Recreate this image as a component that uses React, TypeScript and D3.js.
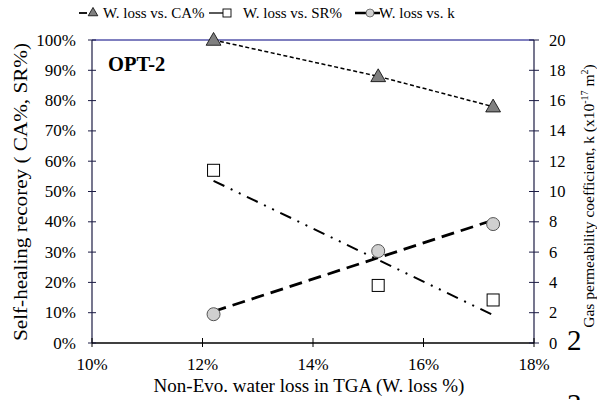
import * as d3 from "d3";

const W = 597;
const H = 400;

// W. loss % (x)
const wLoss = [12.2, 15.18, 17.26];
// self-healing recovery, %
const caPct = [100, 88, 78];
const srPct = [57, 19, 14.2];
// gas permeability k (x10^-17 m2)
const kVal = [1.9, 6.07, 7.85];

const xTicks = [10, 12, 14, 16, 18];
const leftTicks = [0, 10, 20, 30, 40, 50, 60, 70, 80, 90, 100];
const rightTicks = [0, 2, 4, 6, 8, 10, 12, 14, 16, 18, 20];

const ff = { fontFamily: "Liberation Serif" };

// least squares line, used for the two trendlines
function linFit(xs: number[], ys: number[]) {
  const mx = d3.mean(xs)!;
  const my = d3.mean(ys)!;
  let sxy = 0, sxx = 0;
  xs.forEach((x, i) => {
    sxy += (x - mx) * (ys[i] - my);
    sxx += (x - mx) * (x - mx);
  });
  const b = sxy / sxx;
  return (x: number) => my + b * (x - mx);
}

export default function App() {
  const m = { left: 92, right: 534, top: 40, bottom: 343 };
  const x = d3.scaleLinear().domain([10, 18]).range([m.left, m.right]);
  const yL = d3.scaleLinear().domain([0, 100]).range([m.bottom, m.top]);
  const yR = d3.scaleLinear().domain([0, 20]).range([m.bottom, m.top]);

  const xMin = d3.min(wLoss)!;
  const xMax = d3.max(wLoss)!;
  const srFit = linFit(wLoss, srPct);
  const kFit = linFit(wLoss, kVal);

  const caLine = d3.line<number>().x((_, i) => x(wLoss[i])).y(d => yL(d))(caPct) ?? "";
  const srTrend = d3.line<number>().x(d => x(d)).y(d => yL(srFit(d)))([xMin, xMax]) ?? "";
  const kTrend = d3.line<number>().x(d => x(d)).y(d => yR(kFit(d)))([xMin, xMax]) ?? "";

  const tri = d3.symbol().type(d3.symbolTriangle).size(95)() ?? "";

  return (
    <svg width={W} height={H} style={{ position: "absolute", left: 0, top: 0, background: "#fff" }}>
      {/* legend */}
      <line x1={79} x2={87} y1={13} y2={13} stroke="#000" strokeWidth={1.8} />
      <path d={d3.symbol().type(d3.symbolTriangle).size(40)() ?? ""} transform="translate(93,13)" fill="#808080" stroke="#000" strokeWidth={0.8} />
      <text x={103} y={18} fontSize={15} style={ff}>W. loss vs. CA%</text>
      <line x1={209} x2={225} y1={13} y2={13} stroke="#000" strokeWidth={1.3} />
      <rect x={223} y={9} width={8} height={8} fill="#fff" stroke="#000" strokeWidth={0.9} />
      <text x={243} y={18} fontSize={15} style={ff}>W. loss vs. SR%</text>
      <line x1={355} x2={380} y1={13} y2={13} stroke="#000" strokeWidth={2.5} />
      <circle cx={370} cy={13} r={4} fill="#d0d0d0" stroke="#555" strokeWidth={0.8} />
      <text x={379} y={18} fontSize={15} style={ff}>W. loss vs. k</text>

      {/* frame */}
      <line x1={m.left} x2={m.right} y1={m.top} y2={m.top} stroke="#000080" strokeWidth={1} />
      <line x1={m.left} x2={m.left} y1={m.top} y2={m.bottom} stroke="#1c1c44" strokeWidth={1.2} />
      <line x1={m.right} x2={m.right} y1={m.top} y2={m.bottom} stroke="#1c1c44" strokeWidth={1.2} />
      <line x1={m.left} x2={m.right} y1={m.bottom} y2={m.bottom} stroke="#000" strokeWidth={1.5} />

      {/* left axis */}
      {leftTicks.map(t => (
        <g key={t}>
          <line x1={m.left - 4} x2={m.left + 4} y1={yL(t)} y2={yL(t)} stroke="#1c1c44" strokeWidth={1} />
          <text x={76} y={yL(t) + 5.5} textAnchor="end" fontSize={17} style={ff}>{t}%</text>
        </g>
      ))}

      {/* right axis */}
      {rightTicks.map(t => (
        <g key={t}>
          <line x1={m.right - 5} x2={m.right + 5} y1={yR(t)} y2={yR(t)} stroke="#1c1c44" strokeWidth={1} />
          <text x={549} y={yR(t) + 5.5} fontSize={16.5} style={ff}>{t}</text>
        </g>
      ))}

      {/* bottom axis */}
      {xTicks.map(t => (
        <g key={t}>
          <line x1={x(t)} x2={x(t)} y1={m.bottom - 5} y2={m.bottom + 4} stroke="#000" strokeWidth={1} />
          <text x={x(t)} y={370} textAnchor="middle" fontSize={17} style={ff}>{t}%</text>
        </g>
      ))}

      {/* titles */}
      <text x={309} y={392} fontSize={19} textAnchor="middle" style={ff}>Non-Evo. water loss in TGA (W. loss %)</text>
      <text transform="translate(27,192) rotate(-90)" fontSize={18.5} textAnchor="middle" textLength={298} lengthAdjust="spacingAndGlyphs" style={ff}>Self-healing recorey ( CA%, SR%)</text>
      <text transform="translate(594,196) rotate(-90)" fontSize={15.5} textAnchor="middle" style={ff}>
        Gas permeability coefficient, k (x10<tspan fontSize={10} dy={-6}>-17</tspan>
        <tspan dy={6}> m</tspan><tspan fontSize={10} dy={-6}>2</tspan><tspan dy={6}>)</tspan>
      </text>
      <text x={567} y={350} fontSize={29} style={ff}>2</text>
      <text x={567} y={414} fontSize={29} style={ff}>3</text>
      <text x={108} y={71} fontSize={20.5} fontWeight="bold" style={ff}>OPT-2</text>

      {/* lines */}
      <path d={caLine} fill="none" stroke="#000" strokeWidth={1.5} strokeDasharray="4,2.5" />
      <path d={srTrend} fill="none" stroke="#000" strokeWidth={2} strokeDasharray="12,7,2,7,2,7" />
      <path d={kTrend} fill="none" stroke="#000" strokeWidth={2.8} strokeDasharray="13,7" />

      {/* markers */}
      {caPct.map((v, i) => (
        <path key={`ca${i}`} d={tri} transform={`translate(${x(wLoss[i])},${yL(v) + 1})`} fill="#808080" stroke="#000" strokeWidth={0.8} />
      ))}
      {srPct.map((v, i) => (
        <rect key={`sr${i}`} x={x(wLoss[i]) - 6} y={yL(v) - 6} width={12} height={12} fill="#fff" stroke="#000" strokeWidth={1} />
      ))}
      {kVal.map((v, i) => (
        <circle key={`k${i}`} cx={x(wLoss[i])} cy={yR(v)} r={6.5} fill="#d0d0d0" stroke="#555" strokeWidth={1} />
      ))}
    </svg>
  );
}
